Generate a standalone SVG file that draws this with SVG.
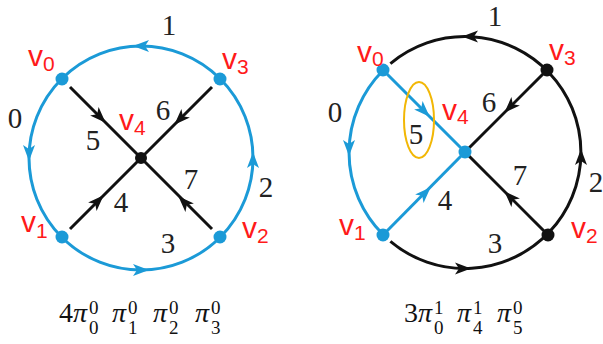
<svg xmlns="http://www.w3.org/2000/svg" xmlns:xlink="http://www.w3.org/1999/xlink" width="603" height="344" viewBox="0 0 603 344">
<style>
.b{stroke:#1b9ad7;stroke-width:3;fill:none}
.k{stroke:#111;stroke-width:3;fill:none}
.bf{fill:#1b9ad7}
.kf{fill:#111}
.num{font-family:"Liberation Serif","Times New Roman","DejaVu Serif",serif;font-size:29px;fill:#222;text-anchor:middle}
.vl{font-family:"Liberation Sans",Arial,sans-serif;font-size:30px;fill:#ff1a1a}
.sub{font-size:21px}
.fm{font-family:"Liberation Serif","Times New Roman","DejaVu Serif",serif;font-size:28px;fill:#111}
.pi{font-style:italic}
.sc{font-size:19px}
</style>
<defs>
<path id="ah" d="M8,0 L-8,-6 L-4,0 L-8,6 Z"/>
</defs>
<rect width="603" height="344" fill="#fff"/>

<!-- LEFT DIAGRAM -->
<g id="left-connectors">
<circle class="b" cx="141" cy="158" r="112"/>
<line class="k" x1="70" y1="87" x2="141" y2="158"/>
<line class="k" x1="212" y1="87" x2="141" y2="158"/>
<line class="k" x1="70" y1="229" x2="141" y2="158"/>
<line class="k" x1="212" y1="229" x2="141" y2="158"/>
<use xlink:href="#ah" class="bf" transform="translate(141,46) rotate(180)"/>
<use xlink:href="#ah" class="bf" transform="translate(29,153) rotate(90)"/>
<use xlink:href="#ah" class="bf" transform="translate(253,160) rotate(-90)"/>
<use xlink:href="#ah" class="bf" transform="translate(141,270)"/>
<use xlink:href="#ah" class="kf" transform="translate(100,117) rotate(45)"/>
<use xlink:href="#ah" class="kf" transform="translate(180,119) rotate(135)"/>
<use xlink:href="#ah" class="kf" transform="translate(98,201) rotate(-45)"/>
<use xlink:href="#ah" class="kf" transform="translate(184,202) rotate(-135)"/>
<text class="num" x="169" y="35">1</text>
<text class="num" x="15" y="128">0</text>
<text class="num" x="266" y="197">2</text>
<text class="num" x="168" y="253">3</text>
<text class="num" x="121" y="212">4</text>
<text class="num" x="93" y="150">5</text>
<text class="num" x="163" y="120">6</text>
<text class="num" x="191" y="189">7</text>
</g>
<g id="L-v0"><circle class="bf" cx="62" cy="79" r="6.5"/><text class="vl" x="28" y="66">v<tspan class="sub" dy="5">0</tspan></text></g>
<g id="L-v1"><circle class="bf" cx="62" cy="237" r="6.5"/><text class="vl" x="21" y="232">v<tspan class="sub" dy="6">1</tspan></text></g>
<g id="L-v2"><circle class="bf" cx="220" cy="237" r="6.5"/><text class="vl" x="242" y="238">v<tspan class="sub" dy="5">2</tspan></text></g>
<g id="L-v3"><circle class="bf" cx="220" cy="79" r="6.5"/><text class="vl" x="222" y="69">v<tspan class="sub" dy="5">3</tspan></text></g>
<g id="L-v4"><circle class="kf" cx="141" cy="158" r="6"/><text class="vl" x="119" y="130">v<tspan class="sub" dy="5">4</tspan></text></g>

<!-- RIGHT DIAGRAM -->
<g id="right-connectors">
<path class="k" d="M390.4,63.6 A116,116 0 1 1 390.4,241.4"/>
<path class="b" d="M383,70.5 A116,116 0 0 0 383,234.5"/>
<line class="b" x1="383" y1="70" x2="465" y2="152"/>
<line class="b" x1="383" y1="235" x2="465" y2="152"/>
<line class="k" x1="547" y1="70" x2="465" y2="152"/>
<line class="k" x1="548" y1="235" x2="465" y2="152"/>
<use xlink:href="#ah" class="kf" transform="translate(470,36.6) rotate(180)"/>
<use xlink:href="#ah" class="bf" transform="translate(349,148) rotate(90)"/>
<use xlink:href="#ah" class="kf" transform="translate(581,157) rotate(-90)"/>
<use xlink:href="#ah" class="kf" transform="translate(463,268.5)"/>
<use xlink:href="#ah" class="bf" transform="translate(424,111) rotate(45)"/>
<use xlink:href="#ah" class="kf" transform="translate(510,107) rotate(135)"/>
<use xlink:href="#ah" class="bf" transform="translate(425,193) rotate(-45)"/>
<use xlink:href="#ah" class="kf" transform="translate(510,197) rotate(-135)"/>
<ellipse cx="419" cy="120" rx="15" ry="38" fill="none" stroke="#f2b705" stroke-width="2"/>
<text class="num" x="495" y="26">1</text>
<text class="num" x="335" y="122">0</text>
<text class="num" x="596" y="192">2</text>
<text class="num" x="495" y="253">3</text>
<text class="num" x="445" y="210">4</text>
<text class="num" x="416" y="144">5</text>
<text class="num" x="489" y="112">6</text>
<text class="num" x="520" y="185">7</text>
</g>
<g id="R-v0"><circle class="bf" cx="383" cy="70" r="6.5"/><text class="vl" x="357" y="62">v<tspan class="sub" dy="4">0</tspan></text></g>
<g id="R-v1"><circle class="bf" cx="383" cy="235" r="6.5"/><text class="vl" x="339" y="235">v<tspan class="sub" dy="5">1</tspan></text></g>
<g id="R-v2"><circle class="kf" cx="548" cy="235" r="6.5"/><text class="vl" x="571" y="238">v<tspan class="sub" dy="5">2</tspan></text></g>
<g id="R-v3"><circle class="kf" cx="547" cy="70" r="6.5"/><text class="vl" x="549" y="60">v<tspan class="sub" dy="5">3</tspan></text></g>
<g id="R-v4"><circle class="bf" cx="465" cy="152" r="6.5"/><text class="vl" x="442" y="120">v<tspan class="sub" dy="4">4</tspan></text></g>

<!-- FORMULAS -->
<g id="formula-left" class="fm">
<text x="59" y="322">4</text>
<text class="pi" x="73" y="322">π</text>
<text class="sc" x="89" y="314">0</text><text class="sc" x="89" y="334">0</text>
<text class="pi" x="112" y="322">π</text>
<text class="sc" x="128" y="314">0</text><text class="sc" x="128" y="334">1</text>
<text class="pi" x="153" y="322">π</text>
<text class="sc" x="169" y="314">0</text><text class="sc" x="169" y="334">2</text>
<text class="pi" x="195" y="322">π</text>
<text class="sc" x="211" y="314">0</text><text class="sc" x="211" y="334">3</text>
</g>
<g id="formula-right" class="fm">
<text x="404" y="322">3</text>
<text class="pi" x="418" y="322">π</text>
<text class="sc" x="434" y="314">1</text><text class="sc" x="434" y="334">0</text>
<text class="pi" x="457" y="322">π</text>
<text class="sc" x="473" y="314">1</text><text class="sc" x="473" y="334">4</text>
<text class="pi" x="497" y="322">π</text>
<text class="sc" x="513" y="314">0</text><text class="sc" x="513" y="334">5</text>
</g>
</svg>
